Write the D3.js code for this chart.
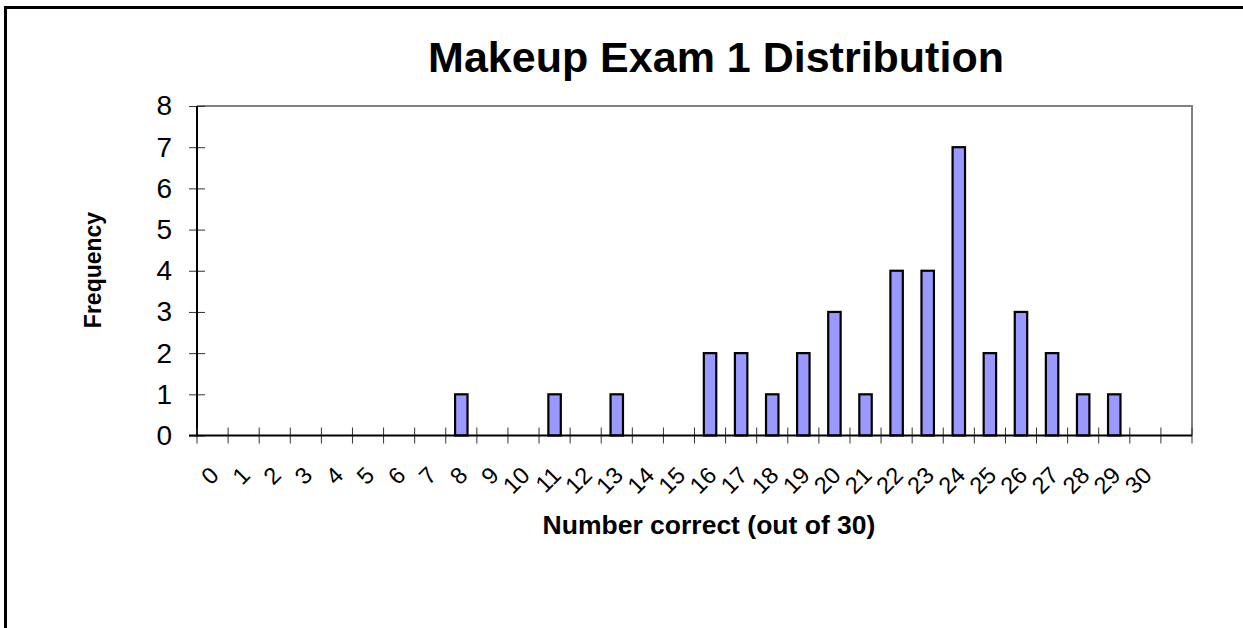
<!DOCTYPE html>
<html>
<head>
<meta charset="utf-8">
<script src="https://cdn.jsdelivr.net/npm/d3@7"></script>
<style>
html,body{margin:0;padding:0;background:#fff;}
svg{display:block;font-family:"Liberation Sans",Arial,sans-serif;}
</style>
</head>
<body>
<svg id="chart" width="1243" height="628"></svg>
<script>
const categories = ["0","1","2","3","4","5","6","7","8","9","10","11","12","13","14","15","16","17","18","19","20","21","22","23","24","25","26","27","28","29","30",""];
const frequency = [0,0,0,0,0,0,0,0,1,0,0,1,0,1,0,0,2,2,1,2,3,1,4,4,7,2,3,2,1,1,0,0];
const yTicks = [0,1,2,3,4,5,6,7,8];
const title = "Makeup Exam 1 Distribution";
const xTitle = "Number correct (out of 30)";
const yTitle = "Frequency";

(function(){
const svg = d3.select("#chart");
const pL = 197, pR = 1192, pT = 106, pB = 435.5;

// outer chart border (right/bottom beyond view)
svg.append("rect").attr("x",5.5).attr("y",7.5).attr("width",1300).attr("height",700)
  .attr("fill","none").attr("stroke","#000").attr("stroke-width",3);

const x = d3.scaleBand().domain(categories.map((c,i)=>i)).range([pL,pR]).padding(0);
const y = d3.scaleLinear().domain([0,8]).range([pB,pT]);

// plot area top/right border
svg.append("path").attr("d",`M${pL},${pT}H${pR}V${pB}`)
  .attr("fill","none").attr("stroke","#808080").attr("stroke-width",2);

// bars
const bw = x.bandwidth()*0.4;
svg.append("g").selectAll("rect").data(frequency.map((v,i)=>({v,i})).filter(d=>d.v>0))
  .join("rect")
  .attr("x",d=>x(d.i)+x.bandwidth()/2-bw/2)
  .attr("y",d=>y(d.v))
  .attr("width",bw)
  .attr("height",d=>y(0)-y(d.v))
  .attr("fill","#9999FF").attr("stroke","#000").attr("stroke-width",2.2);

// y axis
const yAxis = d3.axisLeft(y).tickValues(yTicks).tickSize(8).tickPadding(18).tickFormat(d3.format("d"));
const gy = svg.append("g").attr("transform",`translate(${pL},0)`).call(yAxis);
gy.select(".domain").remove();
gy.selectAll(".tick line").attr("x2",8).attr("x1",-8).attr("stroke","#333").attr("stroke-width",1);
gy.selectAll(".tick text").attr("font-size",28).attr("fill","#000").attr("font-family","Liberation Sans, Arial, sans-serif").attr("x",-25);
svg.append("line").attr("x1",pL).attr("x2",pL).attr("y1",pT).attr("y2",pB+1)
  .attr("stroke","#000").attr("stroke-width",2);

// x axis ticks at band boundaries
const xTickPos = categories.map((c,i)=>x(i)).concat([pR]);
svg.append("g").selectAll("line").data(xTickPos).join("line")
  .attr("x1",d=>d).attr("x2",d=>d).attr("y1",pB-8).attr("y2",pB+8)
  .attr("stroke","#333").attr("stroke-width",1);
svg.append("line").attr("x1",pL-8).attr("x2",pR).attr("y1",pB).attr("y2",pB)
  .attr("stroke","#000").attr("stroke-width",2);

// x labels rotated
svg.append("g").selectAll("text").data(categories.map((c,i)=>({c,i})))
  .join("text")
  .attr("transform",d=>`translate(${x(d.i)+x.bandwidth()/2+2},${pB+35.5}) rotate(-45)`)
  .attr("text-anchor","end").attr("dy","0.35em")
  .attr("font-size",23.5).attr("fill","#000")
  .text(d=>d.c);

// titles
svg.append("text").attr("x",716).attr("y",72).attr("text-anchor","middle")
  .attr("font-size",43).attr("font-weight","bold").text(title);
svg.append("text").attr("x",709).attr("y",534).attr("text-anchor","middle")
  .attr("font-size",26.5).attr("font-weight","bold").text(xTitle);
svg.append("text").attr("transform","translate(101,270) rotate(-90)").attr("text-anchor","middle")
  .attr("font-size",23).attr("font-weight","bold").text(yTitle);
})();
</script>
</body>
</html>
